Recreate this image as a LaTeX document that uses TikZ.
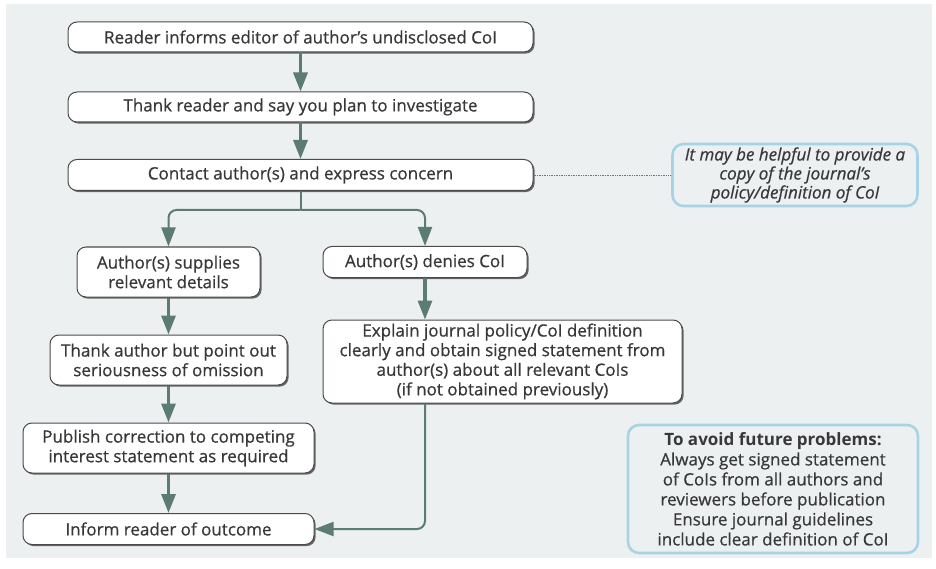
\documentclass[tikz,border=0pt]{standalone}
\usepackage{fontspec}
\setmainfont{Open Sans}[UprightFeatures={FakeBold=0.6},ItalicFeatures={FakeBold=0.6}]
\usetikzlibrary{arrows.meta,shadows}
\definecolor{bg}{HTML}{EDF0F1}
\definecolor{arr}{HTML}{5B7B73}
\definecolor{txt}{HTML}{383838}
\definecolor{boxline}{HTML}{4A4A4A}
\definecolor{notec}{HTML}{A8D3E7}
\begin{document}
\begin{tikzpicture}[x=1pt,y=-1pt,
  font=\fontsize{17}{19.6}\selectfont,
  box/.style={draw=boxline, line width=1pt, fill=white, rounded corners=9pt,
    text=txt, align=center, inner sep=0pt,
    drop shadow={shadow xshift=1.6pt, shadow yshift=-1.6pt, fill=black!60, opacity=1}},
  notebox/.style={draw=notec, line width=2.6pt, fill=bg, rounded corners=11pt,
    text=txt, align=center, inner sep=0pt},
  tip/.style={-{Triangle[length=19pt,width=14pt]}},
  mainarr/.style={tip, draw=arr, line width=3.2pt},
  thinarr/.style={tip, draw=arr, line width=2pt, rounded corners=8pt},
  thinline/.style={draw=arr, line width=2pt, rounded corners=8pt}
]
\useasboundingbox (0,0) rectangle (936,569);
\fill[bg] (6,4) rectangle (932,558);

\node[box, minimum width=465pt, minimum height=30pt] (b1) at (300.5,37)
  {Reader informs editor of author's undisclosed CoI};
\node[box, minimum width=465pt, minimum height=30pt] (b2) at (300.5,107)
  {Thank reader and say you plan to investigate};
\node[box, minimum width=465pt, minimum height=31pt] (b3) at (300.5,175)
  {Contact author(s) and express concern};

\node[box, minimum width=183pt, minimum height=50pt] (sup) at (168.5,272)
  {Author(s) supplies\\relevant details};
\node[box, minimum width=204pt, minimum height=31pt] (den) at (425,262)
  {Author(s) denies CoI};
\node[box, minimum width=359pt, minimum height=83pt] (exp) at (502.5,361.5)
  {Explain journal policy/CoI definition\\clearly and obtain signed statement from\\author(s) about all relevant CoIs\\(if not obtained previously)};
\node[box, minimum width=237pt, minimum height=50pt] (thk) at (168.5,360)
  {Thank author but point out\\seriousness of omission};
\node[box, minimum width=291pt, minimum height=50pt] (pub) at (168.5,448)
  {Publish correction to competing\\interest statement as required};
\node[box, minimum width=291pt, minimum height=31pt] (inf) at (168.5,529)
  {Inform reader of outcome};

\node[notebox, minimum width=245pt, minimum height=62pt, font=\fontsize{17}{19}\selectfont\itshape] (n1) at (795,175)
  {It may be helpful to provide a\\copy of the journal's\\policy/definition of CoI};
\node[notebox, minimum width=290pt, minimum height=128pt, font=\fontsize{17}{20}\selectfont] (n2) at (773,489)
  {\textbf{To avoid future problems:}\\Always get signed statement\\of CoIs from all authors and\\reviewers before publication\\Ensure journal guidelines\\include clear definition of CoI};

\draw[mainarr] (b1) -- (b2);
\draw[mainarr] (b2) -- (b3);
\coordinate (split) at (300.5,210);
\draw[thinline] (b3.south) -- (split);
\draw[thinarr] (split) -| (sup.north);
\draw[thinarr] (split) -| (den.north);
\draw[mainarr] (sup) -- (thk);
\draw[mainarr] (thk) -- (pub);
\draw[mainarr] (pub) -- (inf);
\draw[mainarr] (den.south) -- (den.south |- exp.north);
\draw[thinarr] (den.south |- exp.south) |- (inf.east);
\draw[densely dotted, draw=black!55, line width=0.7pt] (b3.east) -- (n1.west);
\end{tikzpicture}
\end{document}
